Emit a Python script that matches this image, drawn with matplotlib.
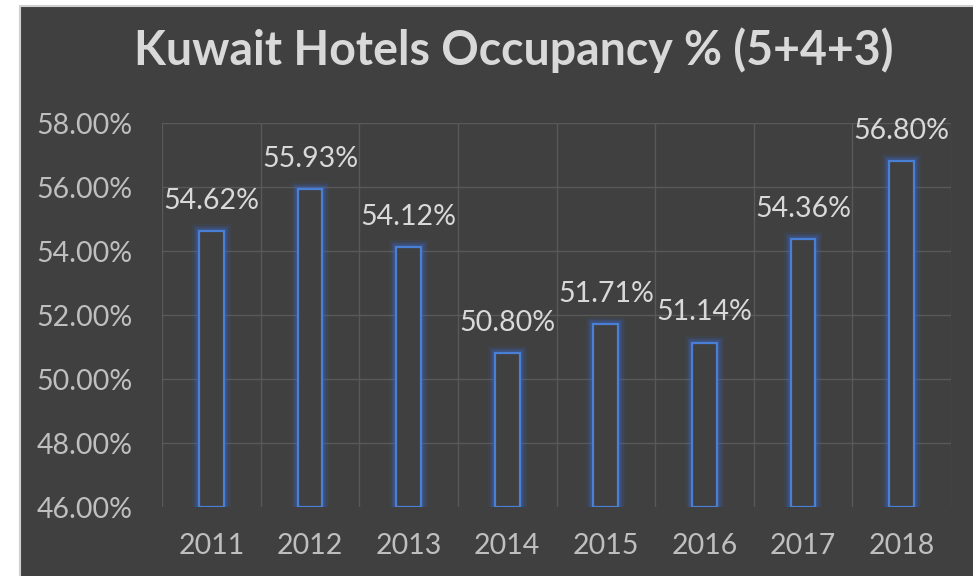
import numpy as np
import matplotlib.pyplot as plt
from matplotlib.patches import Rectangle
from matplotlib.ticker import FuncFormatter

# Kuwait hotel occupancy, 5+4+3 star hotels
years = ['2011', '2012', '2013', '2014', '2015', '2016', '2017', '2018']
occupancy = [54.62, 55.93, 54.12, 50.80, 51.71, 51.14, 54.36, 56.80]

bg = '#404040'
txt = '#d9d9d9'
tick_col = '#bfbfbf'
grid_col = '#595959'
blue = '#4a7fd6'

plt.rcParams['font.family'] = ['Lato', 'DejaVu Sans']

fig = plt.figure(figsize=(9.73, 5.76), dpi=100)
fig.patch.set_facecolor('white')
# chart area (dark panel with light border)
fig.patches.append(Rectangle((20 / 973, -0.01), 1.0, 1 - 6 / 576 + 0.01,
                             transform=fig.transFigure, facecolor=bg,
                             edgecolor='#d0d0d0', linewidth=1.5, zorder=-5))

ax = fig.add_axes([162 / 973, 69 / 576, 789 / 973, 384 / 576])
ax.set_facecolor(bg)
ax.patch.set_alpha(0)

x = np.arange(len(years))
base = 46
heights = [v - base for v in occupancy]

# glow around the bar edges
for lw, a in [(10, 0.08), (8, 0.1), (6, 0.14), (4, 0.22)]:
    ax.bar(x, heights, bottom=base, width=0.25, fill=False,
           edgecolor='#3a6ad0', linewidth=lw, alpha=a, zorder=3)
ax.bar(x, heights, bottom=base, width=0.25, color=bg,
       edgecolor=blue, linewidth=1.6, zorder=4)

for xi, v in zip(x, occupancy):
    ax.annotate('%.2f%%' % v, (xi, v), xytext=(0, 22), textcoords='offset points',
                ha='center', va='center', fontsize=20.5, color=txt, zorder=5)

ax.set_ylim(46, 58)
ax.set_xlim(-0.5, len(years) - 0.5)
ax.set_yticks(np.arange(46, 58.1, 2))
ax.yaxis.set_major_formatter(FuncFormatter(lambda v, p: '%.2f%%' % v))
ax.set_xticks(x)
ax.set_xticklabels(years)

# grid: horizontal at ticks, vertical at category boundaries
for yv in np.arange(48, 58.1, 2):
    ax.axhline(yv, color=grid_col, linewidth=1, zorder=1)
for xb in np.arange(-0.5, len(years), 1):
    ax.axvline(xb, color=grid_col, linewidth=1, zorder=1)

for s in ax.spines.values():
    s.set_visible(False)
ax.tick_params(axis='both', length=0, labelsize=20.5, colors=tick_col)
ax.tick_params(axis='y', pad=21)
ax.tick_params(axis='x', pad=19)

fig.text(514 / 973, 1 - 50 / 576, 'Kuwait Hotels Occupancy % (5+4+3)',
         ha='center', va='center', fontsize=33.5, fontweight='bold', color=txt)

fig.savefig('out.png', dpi=100, facecolor=fig.get_facecolor())
